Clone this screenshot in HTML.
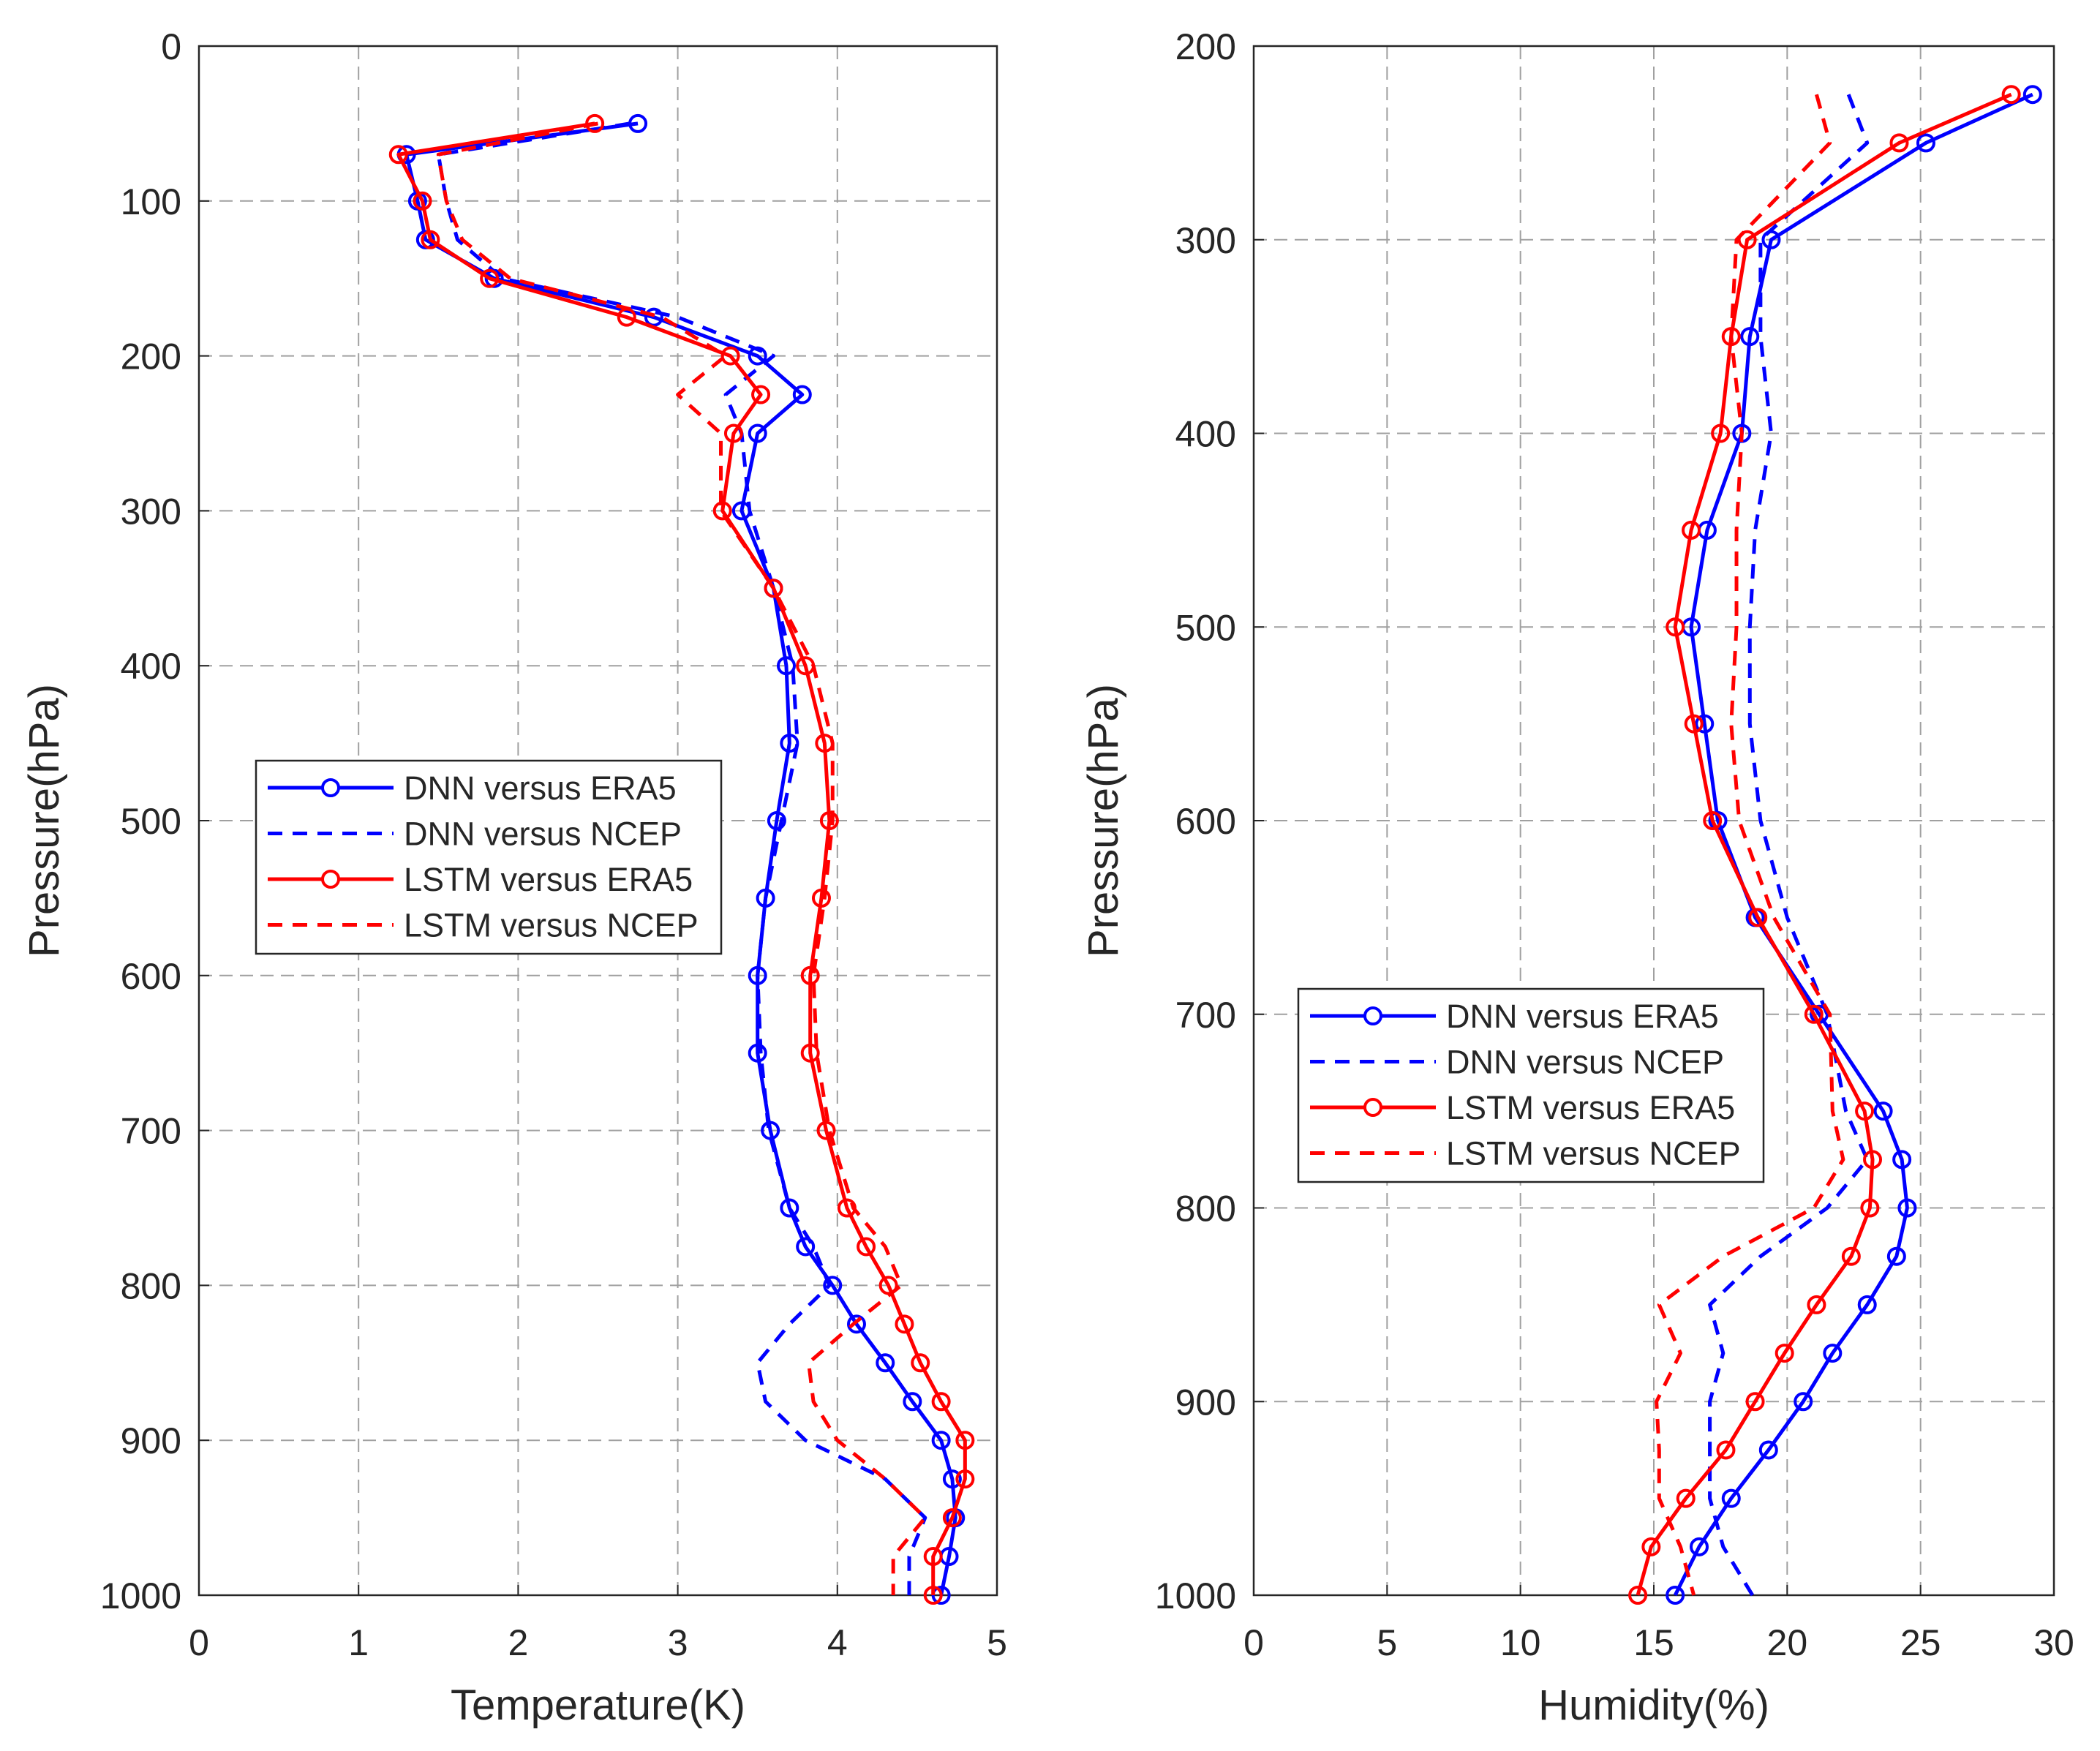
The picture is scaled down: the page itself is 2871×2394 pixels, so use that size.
<!DOCTYPE html>
<html><head><meta charset="utf-8"><style>
html,body{margin:0;padding:0;background:#fff;}
svg{display:block;font-family:"Liberation Sans",Arial,sans-serif;}
</style></head><body>
<svg id="fig" width="2871" height="2394" viewBox="0 0 2871 2394"></svg>
<script>
// ---- Temperature panel data ----
const tPressure=[50,70,100,125,150,175,200,225,250,300,350,400,450,500,550,600,650,700,750,775,800,825,850,875,900,925,950,975,1000];
const tDnnEra5=[2.75,1.3,1.37,1.42,1.85,2.85,3.5,3.78,3.5,3.4,3.6,3.68,3.7,3.62,3.55,3.5,3.5,3.58,3.7,3.8,3.97,4.12,4.3,4.47,4.65,4.72,4.74,4.7,4.65];
const tDnnNcep=[2.7,1.5,1.55,1.62,1.9,3.0,3.6,3.3,3.4,3.45,3.6,3.72,3.75,3.65,3.55,3.5,3.52,3.57,3.7,3.85,3.95,3.7,3.5,3.55,3.8,4.3,4.55,4.45,4.45];
const tLstmEra5=[2.48,1.25,1.4,1.45,1.82,2.68,3.33,3.52,3.35,3.28,3.6,3.8,3.92,3.95,3.9,3.83,3.83,3.93,4.06,4.18,4.32,4.42,4.52,4.65,4.8,4.8,4.72,4.6,4.6];
const tLstmNcep=[2.5,1.5,1.55,1.65,1.95,2.9,3.3,3.0,3.27,3.27,3.6,3.85,3.97,3.97,3.92,3.85,3.87,3.95,4.1,4.3,4.4,4.1,3.82,3.85,4.0,4.3,4.55,4.35,4.35];
const tXTicks=[0,1,2,3,4,5];
const tYTicks=[0,100,200,300,400,500,600,700,800,900,1000];
// ---- Humidity panel data ----
const hPressure=[225,250,300,350,400,450,500,550,600,650,700,750,775,800,825,850,875,900,925,950,975,1000];
const hDnnEra5=[29.2,25.2,19.4,18.6,18.3,17,16.4,16.9,17.4,18.8,21.2,23.6,24.3,24.5,24.1,23,21.7,20.6,19.3,17.9,16.7,15.8];
const hDnnNcep=[22.3,23,19,19,19.4,18.8,18.6,18.6,19,20,21.5,22.2,23,21.5,19,17.1,17.6,17.1,17.1,17.1,17.6,18.7];
const hLstmEra5=[28.4,24.2,18.5,17.9,17.5,16.4,15.8,16.5,17.2,18.9,21,22.9,23.2,23.1,22.4,21.1,19.9,18.8,17.7,16.2,14.9,14.4];
const hLstmNcep=[21.1,21.6,18.1,17.9,18.3,18.1,18.1,17.9,18.2,19.5,21.6,21.7,22.1,21,17.6,15.2,16,15.1,15.2,15.2,16,16.5];
const hXTicks=[0,5,10,15,20,25,30];
const hYTicks=[200,300,400,500,600,700,800,900,1000];
const legendLabels=["DNN versus ERA5","DNN versus NCEP","LSTM versus ERA5","LSTM versus NCEP"];

const NS="http://www.w3.org/2000/svg";
const svg=document.getElementById('fig');
function mk(tag,attrs,parent){const e=document.createElementNS(NS,tag);for(const k in attrs)e.setAttribute(k,attrs[k]);(parent||svg).appendChild(e);return e;}

function panel(cfg){
  const g=mk('g',{});
  
  
  const X=v=>cfg.x0+(v-cfg.xmin)/(cfg.xmax-cfg.xmin)*(cfg.x1-cfg.x0);
  const Y=v=>cfg.y0+(v-cfg.ymin)/(cfg.ymax-cfg.ymin)*(cfg.y1-cfg.y0);
  cfg.xt.forEach(t=>{
    if(t!==cfg.xmin&&t!==cfg.xmax){const l=mk('line',{x1:X(t),x2:X(t),y1:cfg.y0,y2:cfg.y1,stroke:'#a0a0a0','stroke-width':2,'stroke-dasharray':'18,10'},g);
    }
    const tk=mk('line',{x1:X(t),x2:X(t),y1:cfg.y1,y2:cfg.y1-14,stroke:'#262626','stroke-width':2},g);
    
    const tx=mk('text',{x:X(t),y:cfg.y1+82,'text-anchor':'middle','font-size':50,fill:'#262626'},g);tx.textContent=t;
    
  });
  cfg.yt.forEach(t=>{
    if(t!==cfg.ymin&&t!==cfg.ymax){const l=mk('line',{x1:cfg.x0,x2:cfg.x1,y1:Y(t),y2:Y(t),stroke:'#a0a0a0','stroke-width':2,'stroke-dasharray':'18,10'},g);
    }
    const tk=mk('line',{x1:cfg.x0,x2:cfg.x0+14,y1:Y(t),y2:Y(t),stroke:'#262626','stroke-width':2},g);
    
    const tx=mk('text',{x:cfg.x0-24,y:Y(t)+18,'text-anchor':'end','font-size':50,fill:'#262626'},g);tx.textContent=t;
    
  });
  const box=mk('rect',{x:cfg.x0,y:cfg.y0,width:cfg.x1-cfg.x0,height:cfg.y1-cfg.y0,fill:'none',stroke:'#262626','stroke-width':2.5},g);
  
  cfg.series.forEach(s=>{
    const pts=s.v.map((v,i)=>X(v)+','+Y(cfg.p[i])).join(' ');
    const pl=mk('polyline',{points:pts,fill:'none',stroke:s.c,'stroke-width':5,'stroke-dasharray':s.dash?'20,14':'none','stroke-linejoin':'round'},g);
    
    if(s.m){s.v.forEach((v,i)=>{const c=mk('circle',{cx:X(v),cy:Y(cfg.p[i]),r:11,fill:'none',stroke:s.c,'stroke-width':4},g);
      });}
  });
  const xt=mk('text',{x:(cfg.x0+cfg.x1)/2,y:cfg.y1+170,'text-anchor':'middle','font-size':58,fill:'#262626'},g);
  xt.textContent=cfg.xtitle;
  const cy=(cfg.y0+cfg.y1)/2;
  const yt=mk('text',{x:cfg.ytx,y:cy,'text-anchor':'middle','font-size':58,fill:'#262626',transform:`rotate(-90 ${cfg.ytx} ${cy})`},g);
  yt.textContent='Pressure(hPa)';
  const lg=mk('g',{},g);
  const lr=mk('rect',{x:cfg.lx,y:cfg.ly,width:636,height:264,fill:'#fff',stroke:'#262626','stroke-width':2.5},lg);
  
  cfg.series.forEach((s,i)=>{
    const yy=cfg.ly+37+i*62.5;
    const e=mk('g',{},lg);
    mk('line',{x1:cfg.lx+16,x2:cfg.lx+188,y1:yy,y2:yy,stroke:s.c,'stroke-width':5,'stroke-dasharray':s.dash?'20,14':'none'},e);
    if(s.m)mk('circle',{cx:cfg.lx+102,cy:yy,r:11,fill:'#fff',stroke:s.c,'stroke-width':4},e);
    const t=mk('text',{x:cfg.lx+202,y:yy+16,'font-size':45,fill:'#262626'},e);t.textContent=legendLabels[i];
  });
}
panel({name:'temperature-panel',x0:272,x1:1363,y0:63,y1:2181,xmin:0,xmax:5,ymin:0,ymax:1000,xt:tXTicks,yt:tYTicks,p:tPressure,
  xtitle:'Temperature(K)',ytx:80,lx:350,ly:1040,
  series:[{n:'dnn-era5-line',v:tDnnEra5,c:'#0000ff',m:true},{n:'dnn-ncep-line',v:tDnnNcep,c:'#0000ff',dash:true},
          {n:'lstm-era5-line',v:tLstmEra5,c:'#ff0000',m:true},{n:'lstm-ncep-line',v:tLstmNcep,c:'#ff0000',dash:true}]});
panel({name:'humidity-panel',x0:1714,x1:2808,y0:63,y1:2181,xmin:0,xmax:30,ymin:200,ymax:1000,xt:hXTicks,yt:hYTicks,p:hPressure,
  xtitle:'Humidity(%)',ytx:1528,lx:1775,ly:1352,
  series:[{n:'dnn-era5-line',v:hDnnEra5,c:'#0000ff',m:true},{n:'dnn-ncep-line',v:hDnnNcep,c:'#0000ff',dash:true},
          {n:'lstm-era5-line',v:hLstmEra5,c:'#ff0000',m:true},{n:'lstm-ncep-line',v:hLstmNcep,c:'#ff0000',dash:true}]});
</script>
</body></html>
